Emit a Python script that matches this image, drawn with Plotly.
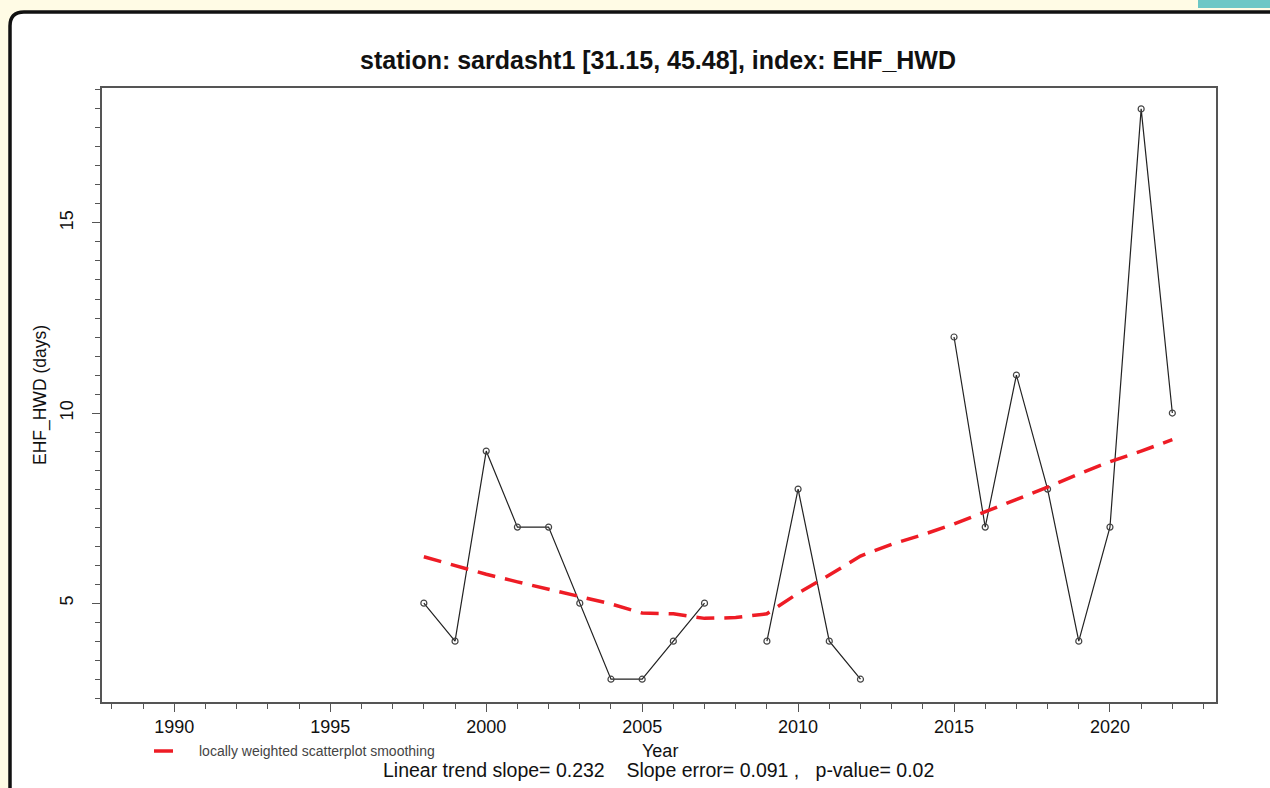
import plotly.graph_objects as go

# ---- data ---------------------------------------------------------------
years = list(range(1998, 2023))
hwd_days = [5, 4, 9, 7, 7, 5, 3, 3, 4, 5, None, 4, 8, 4, 3, None, None,
            12, 7, 11, 8, 4, 7, 18, 10]
loess_fit = [6.22, 5.98, 5.76, 5.56, 5.36, 5.17, 4.98, 4.74, 4.72, 4.60,
             4.62, 4.72, 5.26, 5.74, 6.24, 6.55, 6.80, 7.08, 7.40, 7.72,
             8.05, 8.40, 8.72, 9.00, 9.30]

x_major = [1990, 1995, 2000, 2005, 2010, 2015, 2020]
y_major = [5, 10, 15]

title_text = "station: sardasht1 [31.15, 45.48], index: EHF_HWD"
y_title = "EHF_HWD (days)"
x_title = "Year"
stats_text = "Linear trend slope= 0.232    Slope error= 0.091 ,   p-value= 0.02"
legend_text = "locally weighted scatterplot smoothing"

# ---- geometry -----------------------------------------------------------
W, H = 1270, 788
L, R, T, B = 102, 1216, 88, 702          # plot box in pixels
PW, PH = R - L, B - T


def px(x):
    return (x - L) / PW


def py(y):
    return 1 - (y - T) / PH


FONT = "Arial, Liberation Sans, sans-serif"

fig = go.Figure()

fig.add_trace(go.Scatter(
    x=years, y=hwd_days, mode="lines+markers", connectgaps=False,
    line=dict(color="#222222", width=1.2),
    marker=dict(symbol="circle-open", size=6, color="#444444",
                line=dict(width=1.2)),
    showlegend=False, hoverinfo="x+y"))

fig.add_trace(go.Scatter(
    x=years, y=loess_fit, mode="lines",
    line=dict(color="#EE1C25", width=3.5, dash="18px,10px"),
    showlegend=False, hoverinfo="x+y"))

# ---- page frame: cream page, white card with thick black edge -----------
shapes = [
    dict(type="path", xref="paper", yref="paper", layer="below",
         path=(f"M {px(10)},{py(800)} L {px(10)},{py(26)} "
               f"Q {px(10)},{py(12)} {px(24)},{py(12)} "
               f"L {px(1290)},{py(12)} L {px(1290)},{py(800)} Z"),
         fillcolor="white", line=dict(color="#111111", width=3.5)),
    dict(type="rect", xref="paper", yref="paper", layer="below",
         x0=px(1198), x1=px(1275), y0=py(-5), y1=py(8),
         fillcolor="#6CC7C6", line=dict(width=0)),
    # legend key
    dict(type="line", xref="paper", yref="paper",
         x0=px(154), x1=px(173), y0=py(751), y1=py(751),
         line=dict(color="#EE1C25", width=3.5)),
]

annotations = [
    dict(text=f"<b>{title_text}</b>", xref="paper", yref="paper",
         x=px(658), y=py(60), showarrow=False,
         font=dict(family=FONT, size=25, color="#111111"),
         xanchor="center", yanchor="middle"),
    dict(text=x_title, xref="paper", yref="paper",
         x=px(660), y=py(751), showarrow=False,
         font=dict(family=FONT, size=18, color="#111111"),
         xanchor="center", yanchor="middle"),
    dict(text=stats_text, xref="paper", yref="paper",
         x=px(658), y=py(770), showarrow=False,
         font=dict(family=FONT, size=19.5, color="#111111"),
         xanchor="center", yanchor="middle"),
    dict(text=legend_text, xref="paper", yref="paper",
         x=px(197), y=py(751), showarrow=False,
         font=dict(family=FONT, size=14, color="#444444"),
         xanchor="left", yanchor="middle"),
    dict(text=y_title, xref="paper", yref="paper",
         x=px(40), y=py(395), showarrow=False, textangle=-90,
         font=dict(family=FONT, size=17.5, color="#111111"),
         xanchor="center", yanchor="middle"),
]

axis_common = dict(
    showgrid=False, zeroline=False, showline=True, mirror=True,
    linecolor="#555555", linewidth=1.6,
    ticks="outside", ticklen=8, tickwidth=1.4, tickcolor="#555555",
    tickfont=dict(family=FONT, size=18, color="#111111"),
)

fig.update_layout(
    width=W, height=H,
    margin=dict(l=L, r=W - R, t=T, b=H - B, pad=0),
    paper_bgcolor="#FFFBE5", plot_bgcolor="rgba(0,0,0,0)",
    shapes=shapes, annotations=annotations, showlegend=False,
    xaxis=dict(axis_common, range=[1987.68, 2023.4], tickmode="array",
               tickvals=x_major, ticktext=[str(v) for v in x_major],
               ticklabelstandoff=0,
               minor=dict(ticks="outside", ticklen=5, tickwidth=1.4,
                          tickcolor="#555555", dtick=1, tick0=1988)),
    yaxis=dict(axis_common, range=[2.4, 18.55], tickmode="array",
               tickvals=y_major, ticktext=[str(v) for v in y_major],
               tickangle=-90, ticklabelstandoff=12,
               minor=dict(ticks="outside", ticklen=5, tickwidth=1.4,
                          tickcolor="#555555", dtick=0.5, tick0=2.5)),
)

fig.write_html("out.html")
